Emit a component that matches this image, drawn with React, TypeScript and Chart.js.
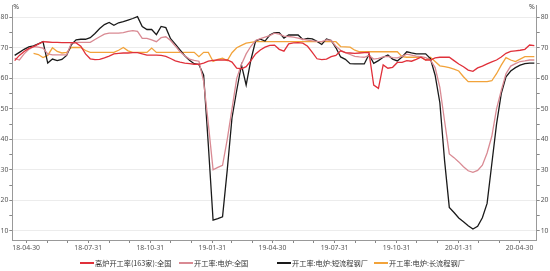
import React, { useEffect, useRef } from 'react';
import { Chart, registerables } from 'chart.js';
Chart.register(...registerables);

// weekly series, first observation on startDate, one value per week
const startDate = '2018-04-13';
const seriesNames = ['高炉开工率(163家):全国', '开工率:电炉:全国', '开工率:电炉:短流程钢厂', '开工率:电炉:长流程钢厂'];
const seriesColors = ['#e0303a', '#d98a93', '#1a1a1a', '#f2a33a'];

const blastFurnace = [
  65.8, 67.5, 68.8, 69.8, 70.4, 71.2, 72, 71.9, 71.8, 71.8,
  71.7, 71.7, 71.7, 71.6, 70.5, 68, 66.4, 66.1, 66.2, 66.7,
  67.3, 68, 68.2, 68.3, 68.3, 68.4, 68.4, 68, 67.6, 67.6,
  67.6, 67.5, 67.2, 66.5, 65.7, 65.3, 65, 64.8, 64.6, 64.6,
  65, 65.6, 65.9, 66, 66, 66, 65.3, 63.3, 63.1, 63.8,
  65.8, 68, 69.3, 70.2, 70.8, 70.9, 69.5, 68.9, 71.3, 71.6,
  71.7, 71.5, 70.5, 68.5, 66.4, 66.1, 66.3, 67.1, 67.5, 69,
  68.4, 68.3, 68.2, 68.3, 68.4, 68.5, 57.8, 56.7, 64.4, 63.3,
  63.6, 65.2, 65.2, 65.8, 65.6, 66.2, 66.9, 66, 66, 66.7,
  66.9, 66.9, 66.9, 65.8, 64.7, 63.8, 62.7, 62.3, 63.4, 64,
  64.7, 65.4, 66, 67, 68.2, 68.8, 69, 69.2, 69.5, 70.9, 70.7,
];

const eafAll = [
  66.5, 66, 68, 69.5, 70.4, 70.2, 69.9, 68, 67.7, 67.7,
  67.7, 67.7, 71.5, 71.8, 71.8, 71.8, 71.8, 72.7, 73.6, 74.5,
  74.8, 74.8, 74.8, 75, 75.4, 75.6, 75.4, 73.1, 73.1, 72.6,
  72, 73.3, 73.6, 72.4, 70.6, 68.7, 67.4, 66.3, 65.9, 65.6,
  59, 45, 30, 30.8, 31.5, 40, 50, 60, 64.5, 68,
  70.5, 72.4, 73, 73.5, 74, 74.8, 74.5, 73.8, 73.7, 73.5,
  73.2, 72.8, 72.5, 72.3, 72.1, 72, 72.6, 72.4, 70.5, 69.2,
  68.4, 67.8, 67.2, 67, 66.9, 67.5, 66.3, 66.5, 67, 67.2,
  66.8, 66.7, 67.2, 67.9, 67.6, 67.3, 67.1, 66.8, 66, 63.5,
  57, 46, 35.2, 34, 32.6, 31, 29.7, 29.2, 29.8, 31.5,
  35.5, 41, 50, 56, 61.5, 64, 64.8, 65.5, 65.7, 66, 66,
];

const eafShort = [
  67.5, 68.5, 69.5, 70.3, 70.6, 71.3, 72, 65, 66.3, 65.8,
  66.2, 67.5, 71, 72.6, 72.8, 72.8, 73.3, 74.7, 76.3, 77.6,
  78.3, 77.4, 78.2, 78.6, 79.1, 79.6, 80.2, 77, 76, 76,
  74.3, 77, 76.6, 73, 71.2, 69.3, 67.4, 65.9, 64.8, 64.5,
  61, 38, 13.5, 14, 14.6, 30, 47, 56, 64.4, 57.8,
  66, 72.3, 72.8, 72.2, 74.2, 75, 75, 73.2, 74.2, 74.2,
  74.2, 72.7, 73.1, 72.9, 72.1, 71.1, 72.9, 72.4, 70, 67,
  66.2, 64.8, 64.7, 64.7, 64.7, 67.8, 64.9, 65.8, 66.9, 67.6,
  66.3, 65.7, 67, 68.7, 68.3, 68, 68, 68, 66.5, 61,
  52, 33, 17.7, 16, 14.2, 13, 11.7, 10.6, 11.5, 14.3,
  19, 32, 45, 55, 60.5, 62.4, 63.5, 64.3, 64.8, 65, 65,
];

const eafLong = [
  null, null, null, null, 68.2, 67.8, 66.8, 67.5, 70, 68.8,
  68.3, 68.5, 70.1, 70.1, 70.1, 69.1, 68.5, 68.5, 68.5, 68.5,
  68.5, 68.5, 69.2, 70.1, 69, 68.5, 68.5, 68.5, 68.5, 69.9,
  68.5, 68.5, 68.5, 68.5, 68.5, 68.5, 68.5, 68.5, 68.5, 67.1,
  68.5, 68.5, 65.5, 66.2, 66.6, 65.8, 68.4, 70, 70.8, 71.5,
  71.8, 72, 72, 72, 72, 72, 72, 72, 72, 72,
  72, 72, 72, 72, 72, 72, 72, 72, 72, 70.4,
  70.3, 70.2, 69.2, 68.7, 68.7, 68.7, 68.7, 68.7, 68.7, 68.7,
  68.7, 68.7, 67.1, 66.9, 66.9, 66.9, 66.9, 66, 66.9, 65.5,
  64.1, 63.8, 63.5, 63, 62.4, 60.5, 58.9, 58.9, 58.9, 58.9,
  58.9, 59.2, 61.5, 64.3, 66.8, 66, 65.5, 66.3, 67.1, 67.1, 67.1,
];

const xTickLabels = ['18-04-30', '18-07-31', '18-10-31', '19-01-31', '19-04-30', '19-07-31', '19-10-31', '20-01-31', '20-04-30'];
const yTickLabels = [10, 20, 30, 40, 50, 60, 70, 80];
const yMin = 7;
const yMax = 84;

const DAY = 86400000;
const t0 = Date.parse(startDate + 'T00:00:00Z');
const xOf = (i: number) => t0 + i * 7 * DAY;

function fmt(t: number) {
  const d = new Date(t);
  const p = (n: number) => String(n).padStart(2, '0');
  return `${p(d.getUTCFullYear() % 100)}-${p(d.getUTCMonth() + 1)}-${p(d.getUTCDate())}`;
}

// month-end ticks between first and last labelled date
function monthEnds() {
  const out: number[] = [];
  for (let m = 0; m <= 24; m++) out.push(Date.UTC(2018, 4 + m, 0));
  return out;
}

const pctPlugin = {
  id: 'pct',
  afterDraw(chart: any) {
    const { ctx, chartArea } = chart;
    ctx.save();
    ctx.font = '7px "Noto Sans"';
    ctx.fillStyle = '#444';
    ctx.textBaseline = 'alphabetic';
    ctx.textAlign = 'left';
    ctx.fillText('%', chartArea.left + 1, 9);
    ctx.textAlign = 'right';
    ctx.fillText('%', chartArea.right - 2, 9);
    ctx.restore();
  },
};

export default function App() {
  const ref = useRef<HTMLCanvasElement>(null);
  useEffect(() => {
    const series = [blastFurnace, eafAll, eafShort, eafLong];
    const n = blastFurnace.length;
    const tickFont = { family: '"Noto Sans"', size: 6.8 };
    const yAxis = (pos: 'left' | 'right', w: number) => ({
      type: 'linear' as const,
      position: pos,
      min: yMin,
      max: yMax,
      afterBuildTicks: (s: any) => {
        const vals: number[] = [];
        yTickLabels.forEach((v) => { vals.push(v); if (v + 5 < yMax) vals.push(v + 5); });
        s.ticks = vals.sort((a, b) => a - b).map((v) => ({ value: v }));
      },
      afterFit: (s: any) => { s.width = w; },
      ticks: {
        font: tickFont,
        color: '#555',
        padding: 1,
        callback: (v: any) => (yTickLabels.includes(v) ? String(v) : ''),
      },
      grid: {
        drawOnChartArea: pos === 'left',
        color: (c: any) => (c.tick && yTickLabels.includes(c.tick.value) ? '#ececec' : 'rgba(0,0,0,0)'),
        tickColor: '#888',
        tickLength: 3,
      },
      border: { color: '#999' },
    });
    const chart = new Chart(ref.current!, {
      type: 'line',
      data: {
        datasets: series.map((arr, k) => ({
          label: seriesNames[k],
          data: arr.map((v, i) => ({ x: xOf(i), y: v })),
          borderColor: seriesColors[k],
          backgroundColor: seriesColors[k],
          borderWidth: 1.3,
          pointRadius: 0,
          tension: 0,
          spanGaps: false,
          yAxisID: 'y',
        })),
      },
      options: {
        animation: false,
        responsive: false,
        layout: { padding: { top: 5, bottom: 17, left: 0, right: 0 } },
        plugins: { legend: { display: false }, tooltip: { enabled: false } },
        scales: {
          x: {
            type: 'linear',
            min: xOf(0) - 3.5 * DAY,
            max: xOf(n - 1) + 3.5 * DAY,
            afterBuildTicks: (s: any) => { s.ticks = monthEnds().map((v) => ({ value: v })); },
            afterFit: (s: any) => { s.height = 14; },
            ticks: {
              autoSkip: false,
              maxRotation: 0,
              font: tickFont,
              color: '#555',
              padding: 1,
              callback: (v: any) => { const l = fmt(v); return xTickLabels.includes(l) ? l : ''; },
            },
            grid: { drawOnChartArea: false, tickColor: '#888', tickLength: 3 },
            border: { color: '#999' },
          },
          y: yAxis('left', 12.3),
          y2: yAxis('right', 13.3),
        },
      },
      plugins: [pctPlugin],
    });
    return () => chart.destroy();
  }, []);

  const legendLeft = [80, 179, 277, 374];
  return (
    <div style={{ position: 'absolute', left: 0, top: 0, width: 550, height: 271, background: '#fff' }}>
      <canvas ref={ref} width={550} height={271} style={{ display: 'block', width: 550, height: 271 }} />
      {seriesNames.map((name, k) => (
        <div key={k} style={{ position: 'absolute', left: legendLeft[k], top: 257, height: 12, display: 'flex', alignItems: 'center', whiteSpace: 'nowrap' }}>
          <div style={{ width: 14, height: 2, background: seriesColors[k], marginRight: 1 }} />
          <span style={{ font: '7.2px "Noto Sans CJK SC", sans-serif', color: '#333' }}>{name}</span>
        </div>
      ))}
    </div>
  );
}
